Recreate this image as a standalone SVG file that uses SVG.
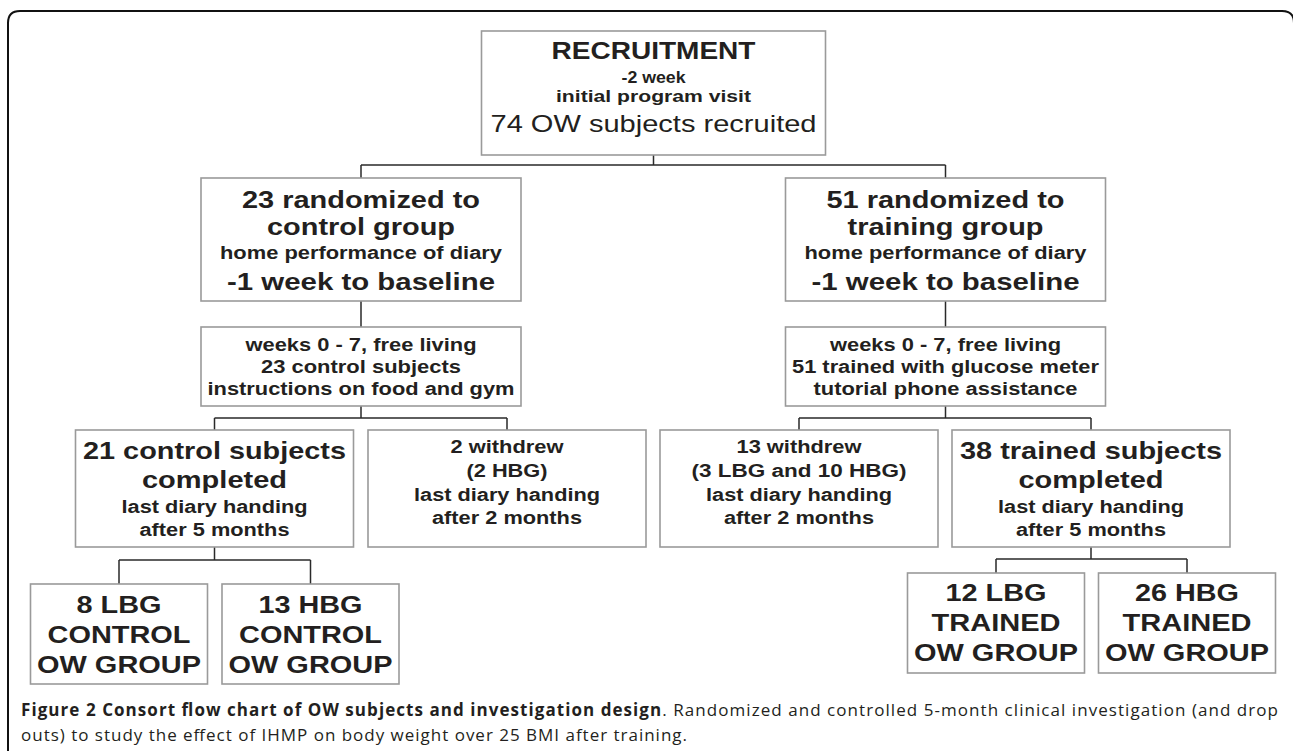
<svg xmlns="http://www.w3.org/2000/svg" width="1293" height="751" viewBox="0 0 1293 751">
<style>
.box{fill:#fff;stroke:#9a9a9a;stroke-width:1.6}
.c{fill:none;stroke:#2a2a2a;stroke-width:1.5}
.t{font-family:"Liberation Sans",Arial,Helvetica,sans-serif;fill:#231f20;text-anchor:middle;font-weight:bold}
.L{font-size:24px}
.S{font-size:18px}
.cap{font-family:"Open Sans","Noto Sans",sans-serif;font-size:17px;fill:#231f20}
</style>
<rect width="1293" height="751" fill="#fff"/>
<path d="M8,760 V23 Q8,11 20,11 H1282 Q1294,11 1294,23 V760" fill="none" stroke="#111" stroke-width="2"/>

<g id="connectors">
<path class="c" d="M653.5,155 V165 M361,165 H945.5 M361,165 V178 M945.5,165 V178"/>
<path class="c" d="M361,301 V327 M945.5,301 V327"/>
<path class="c" d="M361,406 V418 M214.5,418 H507 M214.5,418 V430 M507,418 V430"/>
<path class="c" d="M945.5,406 V418 M799,418 H1091 M799,418 V430 M1091,418 V430"/>
<path class="c" d="M214.5,547 V560 M119,560 H310.5 M119,560 V584 M310.5,560 V584"/>
<path class="c" d="M1091,547 V559 M996,559 H1187 M996,559 V573 M1187,559 V573"/>
</g>

<g id="recruitment">
<rect class="box" x="481.5" y="31" width="344" height="124"/>
<text class="t" x="653.5" y="59" font-size="23" textLength="204" lengthAdjust="spacingAndGlyphs">RECRUITMENT</text>
<text class="t" x="653.5" y="83" font-size="16" textLength="64" lengthAdjust="spacingAndGlyphs">-2 week</text>
<text class="t" x="653.5" y="102" font-size="17" textLength="195" lengthAdjust="spacingAndGlyphs">initial program visit</text>
<text class="t" x="653.5" y="132" font-size="24" font-weight="normal" style="font-weight:normal" textLength="326" lengthAdjust="spacingAndGlyphs">74 OW subjects recruited</text>
</g>

<g id="control-group">
<rect class="box" x="201" y="178" width="320" height="123"/>
<text class="t L" x="361" y="208" textLength="238" lengthAdjust="spacingAndGlyphs">23 randomized to</text>
<text class="t L" x="361" y="235" textLength="188" lengthAdjust="spacingAndGlyphs">control group</text>
<text class="t S" x="361" y="259" textLength="282" lengthAdjust="spacingAndGlyphs">home performance of diary</text>
<text class="t L" x="361" y="290" textLength="268" lengthAdjust="spacingAndGlyphs">-1 week to baseline</text>
</g>

<g id="training-group">
<rect class="box" x="785.5" y="178" width="320" height="123"/>
<text class="t L" x="945.5" y="208" textLength="238" lengthAdjust="spacingAndGlyphs">51 randomized to</text>
<text class="t L" x="945.5" y="235" textLength="196" lengthAdjust="spacingAndGlyphs">training group</text>
<text class="t S" x="945.5" y="259" textLength="282" lengthAdjust="spacingAndGlyphs">home performance of diary</text>
<text class="t L" x="945.5" y="290" textLength="268" lengthAdjust="spacingAndGlyphs">-1 week to baseline</text>
</g>

<g id="control-weeks">
<rect class="box" x="201" y="327" width="320" height="79"/>
<text class="t S" x="361" y="351" textLength="231" lengthAdjust="spacingAndGlyphs">weeks 0 - 7, free living</text>
<text class="t S" x="361" y="373" textLength="200" lengthAdjust="spacingAndGlyphs">23 control subjects</text>
<text class="t S" x="361" y="395" textLength="307" lengthAdjust="spacingAndGlyphs">instructions on food and gym</text>
</g>

<g id="training-weeks">
<rect class="box" x="785.5" y="327" width="320" height="79"/>
<text class="t S" x="945.5" y="351" textLength="231" lengthAdjust="spacingAndGlyphs">weeks 0 - 7, free living</text>
<text class="t S" x="945.5" y="373" textLength="307" lengthAdjust="spacingAndGlyphs">51 trained with glucose meter</text>
<text class="t S" x="945.5" y="395" textLength="264" lengthAdjust="spacingAndGlyphs">tutorial phone assistance</text>
</g>

<g id="control-completed">
<rect class="box" x="75.5" y="430" width="278" height="117"/>
<text class="t L" x="214.5" y="459" textLength="263" lengthAdjust="spacingAndGlyphs">21 control subjects</text>
<text class="t L" x="214.5" y="488" textLength="145" lengthAdjust="spacingAndGlyphs">completed</text>
<text class="t S" x="214.5" y="513" textLength="186" lengthAdjust="spacingAndGlyphs">last diary handing</text>
<text class="t S" x="214.5" y="536" textLength="150" lengthAdjust="spacingAndGlyphs">after 5 months</text>
</g>

<g id="control-withdrew">
<rect class="box" x="368" y="430" width="278" height="117"/>
<text class="t S" x="507" y="453" textLength="113" lengthAdjust="spacingAndGlyphs">2 withdrew</text>
<text class="t S" x="507" y="477" textLength="81" lengthAdjust="spacingAndGlyphs">(2 HBG)</text>
<text class="t S" x="507" y="501" textLength="186" lengthAdjust="spacingAndGlyphs">last diary handing</text>
<text class="t S" x="507" y="524" textLength="150" lengthAdjust="spacingAndGlyphs">after 2 months</text>
</g>

<g id="training-withdrew">
<rect class="box" x="660" y="430" width="278" height="117"/>
<text class="t S" x="799" y="453" textLength="125" lengthAdjust="spacingAndGlyphs">13 withdrew</text>
<text class="t S" x="799" y="477" textLength="215" lengthAdjust="spacingAndGlyphs">(3 LBG and 10 HBG)</text>
<text class="t S" x="799" y="501" textLength="186" lengthAdjust="spacingAndGlyphs">last diary handing</text>
<text class="t S" x="799" y="524" textLength="150" lengthAdjust="spacingAndGlyphs">after 2 months</text>
</g>

<g id="training-completed">
<rect class="box" x="952" y="430" width="278" height="117"/>
<text class="t L" x="1091" y="459" textLength="262" lengthAdjust="spacingAndGlyphs">38 trained subjects</text>
<text class="t L" x="1091" y="488" textLength="145" lengthAdjust="spacingAndGlyphs">completed</text>
<text class="t S" x="1091" y="513" textLength="186" lengthAdjust="spacingAndGlyphs">last diary handing</text>
<text class="t S" x="1091" y="536" textLength="150" lengthAdjust="spacingAndGlyphs">after 5 months</text>
</g>

<g id="lbg-control">
<rect class="box" x="30.5" y="584" width="177" height="100"/>
<text class="t L" x="119" y="613" textLength="85" lengthAdjust="spacingAndGlyphs">8 LBG</text>
<text class="t L" x="119" y="643" textLength="143" lengthAdjust="spacingAndGlyphs">CONTROL</text>
<text class="t L" x="119" y="673" textLength="164" lengthAdjust="spacingAndGlyphs">OW GROUP</text>
</g>

<g id="hbg-control">
<rect class="box" x="222" y="584" width="177" height="100"/>
<text class="t L" x="310.5" y="613" textLength="104" lengthAdjust="spacingAndGlyphs">13 HBG</text>
<text class="t L" x="310.5" y="643" textLength="143" lengthAdjust="spacingAndGlyphs">CONTROL</text>
<text class="t L" x="310.5" y="673" textLength="164" lengthAdjust="spacingAndGlyphs">OW GROUP</text>
</g>

<g id="lbg-trained">
<rect class="box" x="907.5" y="573" width="177" height="100"/>
<text class="t L" x="996" y="601" textLength="101" lengthAdjust="spacingAndGlyphs">12 LBG</text>
<text class="t L" x="996" y="631" textLength="129" lengthAdjust="spacingAndGlyphs">TRAINED</text>
<text class="t L" x="996" y="661" textLength="164" lengthAdjust="spacingAndGlyphs">OW GROUP</text>
</g>

<g id="hbg-trained">
<rect class="box" x="1098.5" y="573" width="177" height="100"/>
<text class="t L" x="1187" y="601" textLength="104" lengthAdjust="spacingAndGlyphs">26 HBG</text>
<text class="t L" x="1187" y="631" textLength="129" lengthAdjust="spacingAndGlyphs">TRAINED</text>
<text class="t L" x="1187" y="661" textLength="164" lengthAdjust="spacingAndGlyphs">OW GROUP</text>
</g>

<g id="caption">
<text class="cap" x="21" y="716" textLength="1257" lengthAdjust="spacing"><tspan font-weight="bold">Figure 2 Consort flow chart of OW subjects and investigation design</tspan>. Randomized and controlled 5-month clinical investigation (and drop</text>
<text class="cap" x="21" y="741" textLength="666" lengthAdjust="spacing">outs) to study the effect of IHMP on body weight over 25 BMI after training.</text>
</g>
</svg>
